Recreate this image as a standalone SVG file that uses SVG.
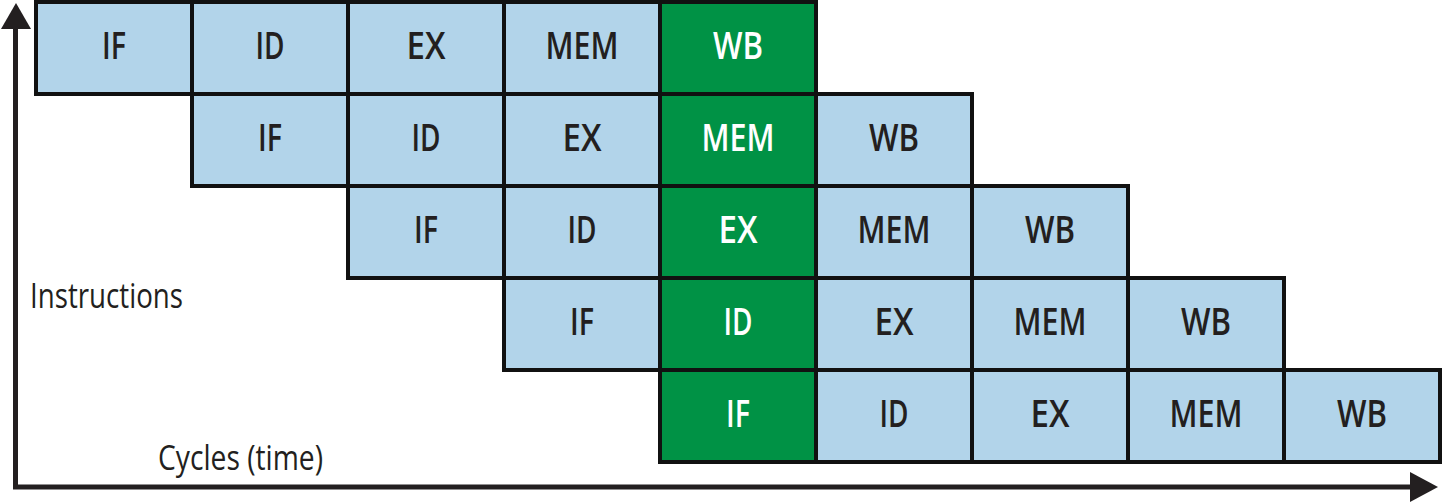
<svg xmlns="http://www.w3.org/2000/svg" width="1444" height="503" viewBox="0 0 1444 503">
<style>
.c rect{fill:#b2d4ea;stroke:#111;stroke-width:4}
.c text{fill:#231f20;font-family:"Open Sans","Liberation Sans",sans-serif;font-weight:600;font-size:38px;text-anchor:middle}
.g rect{fill:#009245}
.g text{fill:#fff}
.lbl{fill:#231f20;font-family:"Open Sans","Liberation Sans",sans-serif;font-weight:400;font-size:35px}
.ax{stroke:#231f20;stroke-width:5;fill:none}
.ah{fill:#231f20}
</style>
<rect width="1444" height="503" fill="#fff"/>
<g id="connectors">
<path class="ax" d="M15.5,28 V487 H1411"/>
<polygon class="ah" points="1,29 31,29 16,3"/>
<polygon class="ah" points="1410,472 1410,502 1438,487"/>
</g>
<!-- row 1 -->
<g id="r1-if" class="c"><rect x="36" y="2" width="156" height="92"/><text x="114" y="59" textLength="24" lengthAdjust="spacingAndGlyphs">IF</text></g>
<g id="r1-id" class="c"><rect x="192" y="2" width="156" height="92"/><text x="270" y="59" textLength="29" lengthAdjust="spacingAndGlyphs">ID</text></g>
<g id="r1-ex" class="c"><rect x="348" y="2" width="156" height="92"/><text x="426" y="59" textLength="39" lengthAdjust="spacingAndGlyphs">EX</text></g>
<g id="r1-mem" class="c"><rect x="504" y="2" width="156" height="92"/><text x="582" y="59" textLength="73" lengthAdjust="spacingAndGlyphs">MEM</text></g>
<g id="r1-wb" class="c g"><rect x="660" y="2" width="156" height="92"/><text x="738" y="59" textLength="50" lengthAdjust="spacingAndGlyphs">WB</text></g>
<!-- row 2 -->
<g id="r2-if" class="c"><rect x="192" y="94" width="156" height="92"/><text x="270" y="151" textLength="24" lengthAdjust="spacingAndGlyphs">IF</text></g>
<g id="r2-id" class="c"><rect x="348" y="94" width="156" height="92"/><text x="426" y="151" textLength="29" lengthAdjust="spacingAndGlyphs">ID</text></g>
<g id="r2-ex" class="c"><rect x="504" y="94" width="156" height="92"/><text x="582" y="151" textLength="39" lengthAdjust="spacingAndGlyphs">EX</text></g>
<g id="r2-mem" class="c g"><rect x="660" y="94" width="156" height="92"/><text x="738" y="151" textLength="73" lengthAdjust="spacingAndGlyphs">MEM</text></g>
<g id="r2-wb" class="c"><rect x="816" y="94" width="156" height="92"/><text x="894" y="151" textLength="50" lengthAdjust="spacingAndGlyphs">WB</text></g>
<!-- row 3 -->
<g id="r3-if" class="c"><rect x="348" y="186" width="156" height="92"/><text x="426" y="243" textLength="24" lengthAdjust="spacingAndGlyphs">IF</text></g>
<g id="r3-id" class="c"><rect x="504" y="186" width="156" height="92"/><text x="582" y="243" textLength="29" lengthAdjust="spacingAndGlyphs">ID</text></g>
<g id="r3-ex" class="c g"><rect x="660" y="186" width="156" height="92"/><text x="738" y="243" textLength="39" lengthAdjust="spacingAndGlyphs">EX</text></g>
<g id="r3-mem" class="c"><rect x="816" y="186" width="156" height="92"/><text x="894" y="243" textLength="73" lengthAdjust="spacingAndGlyphs">MEM</text></g>
<g id="r3-wb" class="c"><rect x="972" y="186" width="156" height="92"/><text x="1050" y="243" textLength="50" lengthAdjust="spacingAndGlyphs">WB</text></g>
<!-- row 4 -->
<g id="r4-if" class="c"><rect x="504" y="278" width="156" height="92"/><text x="582" y="335" textLength="24" lengthAdjust="spacingAndGlyphs">IF</text></g>
<g id="r4-id" class="c g"><rect x="660" y="278" width="156" height="92"/><text x="738" y="335" textLength="29" lengthAdjust="spacingAndGlyphs">ID</text></g>
<g id="r4-ex" class="c"><rect x="816" y="278" width="156" height="92"/><text x="894" y="335" textLength="39" lengthAdjust="spacingAndGlyphs">EX</text></g>
<g id="r4-mem" class="c"><rect x="972" y="278" width="156" height="92"/><text x="1050" y="335" textLength="73" lengthAdjust="spacingAndGlyphs">MEM</text></g>
<g id="r4-wb" class="c"><rect x="1128" y="278" width="156" height="92"/><text x="1206" y="335" textLength="50" lengthAdjust="spacingAndGlyphs">WB</text></g>
<!-- row 5 -->
<g id="r5-if" class="c g"><rect x="660" y="370" width="156" height="92"/><text x="738" y="427" textLength="24" lengthAdjust="spacingAndGlyphs">IF</text></g>
<g id="r5-id" class="c"><rect x="816" y="370" width="156" height="92"/><text x="894" y="427" textLength="29" lengthAdjust="spacingAndGlyphs">ID</text></g>
<g id="r5-ex" class="c"><rect x="972" y="370" width="156" height="92"/><text x="1050" y="427" textLength="39" lengthAdjust="spacingAndGlyphs">EX</text></g>
<g id="r5-mem" class="c"><rect x="1128" y="370" width="156" height="92"/><text x="1206" y="427" textLength="73" lengthAdjust="spacingAndGlyphs">MEM</text></g>
<g id="r5-wb" class="c"><rect x="1284" y="370" width="156" height="92"/><text x="1362" y="427" textLength="50" lengthAdjust="spacingAndGlyphs">WB</text></g>
<g id="label-instructions"><text class="lbl" x="30" y="308" textLength="153" lengthAdjust="spacingAndGlyphs">Instructions</text></g>
<g id="label-cycles"><text class="lbl" x="158" y="470" textLength="165" lengthAdjust="spacingAndGlyphs">Cycles (time)</text></g>
</svg>
